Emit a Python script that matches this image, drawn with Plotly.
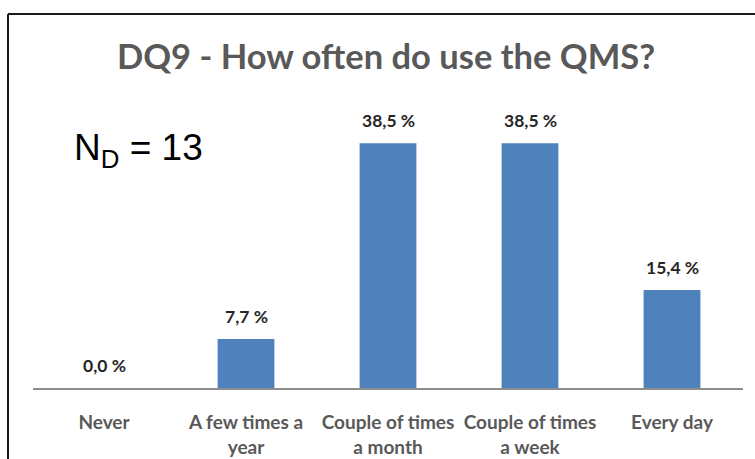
import plotly.graph_objects as go

categories = ["Never", "A few times a<br>year", "Couple of times<br>a month", "Couple of times<br>a week", "Every day"]
values = [0.0, 7.7, 38.5, 38.5, 15.4]
title_text = "DQ9 - How often do use the QMS?"
n_label = "N<sub>D</sub> = 13"

W, H = 755, 459
ml, mr, mt, mb = 33, 12, 102, 71
pw, ph = W - ml - mr, H - mt - mb

def px_x(p):
    return (p - ml) / pw

def px_y(p):
    return (H - mb - p) / ph

fig = go.Figure()
fig.add_trace(go.Bar(
    x=categories, y=values,
    marker=dict(color="#4F81BD", line=dict(width=0)),
    width=0.4,
    hoverinfo="skip",
))

for c, v in zip(categories, values):
    fig.add_annotation(
        x=c, y=v, xref="x", yref="y",
        text=f"{v:.1f}".replace(".", ",") + " %",
        showarrow=False, yanchor="bottom", yshift=10,
        font=dict(family="Lato", size=17.5, color="#262626", weight="bold"),
    )

fig.add_annotation(
    x=px_x(72), y=px_y(150), xref="paper", yref="paper",
    xanchor="left", yanchor="middle",
    text=n_label, showarrow=False,
    font=dict(family="Liberation Sans", size=37, color="#000000"),
)

# chart border (top and left)
fig.add_shape(type="line", xref="paper", yref="paper",
              x0=px_x(8), x1=px_x(760), y0=px_y(14), y1=px_y(14),
              line=dict(color="#1a1a1a", width=2))
fig.add_shape(type="line", xref="paper", yref="paper",
              x0=px_x(8), x1=px_x(8), y0=px_y(14), y1=px_y(470),
              line=dict(color="#1a1a1a", width=2))

fig.update_layout(
    width=W, height=H,
    margin=dict(l=ml, r=mr, t=mt, b=mb, autoexpand=False),
    paper_bgcolor="white", plot_bgcolor="white",
    showlegend=False,
    title=dict(
        text=title_text, x=386 / W, xanchor="center",
        y=1 - 57 / H, yanchor="middle", yref="container",
        font=dict(family="Lato", size=34.5, color="#595959", weight="bold"),
    ),
    bargap=0.6,
)
fig.update_xaxes(
    showline=True, linecolor="#8C8C8C", linewidth=2,
    ticks="", showgrid=False, automargin=False,
    tickfont=dict(family="Lato", size=19, color="#595959", weight="bold"),
    ticklabelstandoff=16,
)
fig.update_yaxes(
    range=[0, 45], visible=False, showgrid=False, zeroline=False,
    automargin=False,
)

fig.write_html("out.html")
